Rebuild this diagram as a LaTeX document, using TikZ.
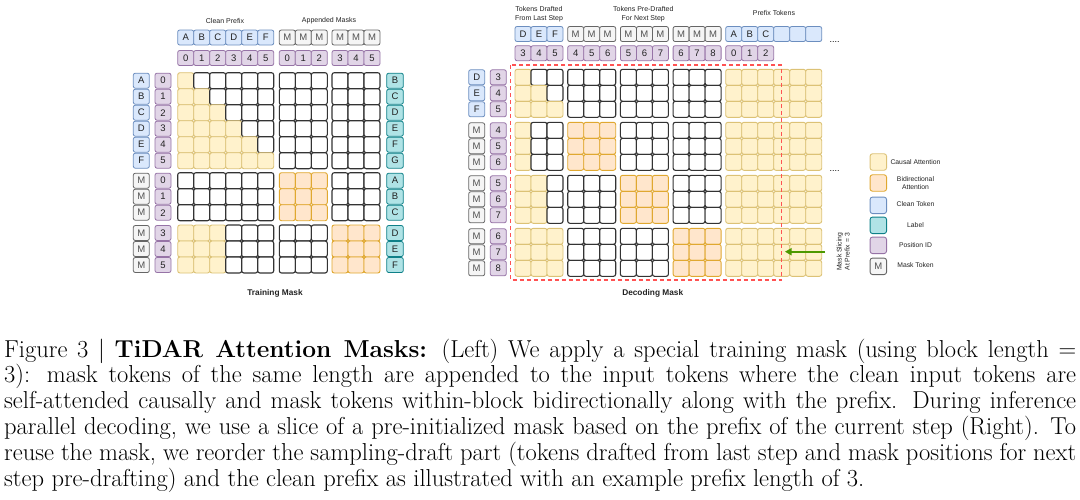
\documentclass[tikz,border=0pt]{standalone}
\usepackage{fontspec}
\newfontfamily\sff{Liberation Sans}
\usetikzlibrary{arrows.meta}
\definecolor{causF}{HTML}{FFF2CC}
\definecolor{causD}{HTML}{DCC276}
\definecolor{bidF}{HTML}{FFE6CC}
\definecolor{bidD}{HTML}{E0A830}
\definecolor{cleanF}{HTML}{DAE8FC}
\definecolor{cleanD}{HTML}{6C8EBF}
\definecolor{labF}{HTML}{B0E3E6}
\definecolor{labD}{HTML}{0E8088}
\definecolor{posF}{HTML}{E1D5E7}
\definecolor{posD}{HTML}{9673A6}
\definecolor{maskF}{HTML}{F5F5F5}
\definecolor{maskD}{HTML}{666666}
\definecolor{cellD}{HTML}{333333}
\definecolor{txt}{HTML}{222222}
\definecolor{redd}{HTML}{FF5252}
\definecolor{arrg}{HTML}{4D9900}
\begin{document}
\begin{tikzpicture}[x=1pt,y=-1pt,
  cellbase/.style={rounded corners=2.2pt},
  wcell/.style={cellbase, draw=cellD, fill=white, line width=1.1pt},
  ccell/.style={cellbase, draw=causD, fill=causF, line width=0.9pt},
  bcell/.style={cellbase, draw=bidD, fill=bidF, line width=0.9pt},
  tok/.style={draw, rounded corners=2pt, minimum width=16pt, minimum height=15pt, inner sep=0pt,
    font=\sff\fontsize{9.5}{10}\selectfont, text=txt, line width=0.8pt},
  cleantok/.style={tok, draw=cleanD, fill=cleanF},
  labtok/.style={tok, draw=labD, fill=labF},
  posid/.style={tok, draw=posD, fill=posF},
  masktok/.style={tok, draw=maskD, fill=maskF, text=maskD!80!black},
  legbox/.style={draw, rounded corners=2.5pt, minimum width=16.5pt, minimum height=16.5pt, inner sep=0pt, line width=0.9pt,
    font=\sff\fontsize{9.5}{10}\selectfont, text=maskD!80!black},
  headtxt/.style={font=\sff\fontsize{7}{8.3}\selectfont, text=txt, align=center, inner sep=0pt},
  legtxt/.style={font=\sff\fontsize{6.8}{8}\selectfont, text=txt, align=center, inner sep=0pt},
  titletxt/.style={font=\sff\bfseries\fontsize{8.3}{9}\selectfont, text=txt, inner sep=0pt},
  reddash/.style={draw=redd, line width=1.4pt, dash pattern=on 4pt off 3pt},
  greenarrow/.style={draw=arrg, line width=1.6pt, -{Triangle[length=6.5pt,width=7pt]}}
]
\useasboundingbox (0,0) rectangle (1080,499);

% ================= LEFT: TRAINING MASK =================
\node[headtxt] (cleanlbl) at (225,21) {Clean Prefix};
\node[headtxt] (applbl) at (329,21) {Appended Masks};
% header tokens
\foreach \t [count=\k from 0] in {A,B,C,D,E,F}{
  \node[cleantok] (lh-\k) at (177.7+16*\k+8,37.5) {\t};
  \node[posid] (lp-\k) at (177.7+16*\k+8,58) {\k};
}
\foreach \k in {0,1,2}{
  \node[masktok] (lhm1-\k) at (279.3+16*\k+8,37.5) {M};
  \node[masktok] (lhm2-\k) at (332+16*\k+8,37.5) {M};
  \pgfmathtruncatemacro\kk{\k+3}
  \node[posid] (lpm1-\k) at (279.3+16*\k+8,58) {\k};
  \node[posid] (lpm2-\k) at (332+16*\k+8,58) {\kk};
}
% grid
\foreach \r in {0,...,11}{
  \pgfmathsetmacro\ry{\r<6 ? 72.7+16*\r : (\r<9 ? 172.7+16*(\r-6) : 225+16*(\r-9))}
  \foreach \c in {0,...,11}{
    \pgfmathsetmacro\cx{\c<6 ? 177.7+16*\c : (\c<9 ? 279.3+16*(\c-6) : 332+16*(\c-9))}
    \pgfmathtruncatemacro\typ{\r<6 ? ((\c<6 && \c<\r+1) ? 1 : 0) : (\r<9 ? ((\c>5 && \c<9) ? 2 : 0) : (\c<3 ? 1 : (\c>8 ? 2 : 0)))}
    \ifcase\typ
      \path[wcell] (\cx,\ry) rectangle ++(16,16);
    \or
      \path[ccell] (\cx,\ry) rectangle ++(16,16);
    \or
      \path[bcell] (\cx,\ry) rectangle ++(16,16);
    \fi
  }
}
% row labels
\foreach \t/\p/\l [count=\r from 0] in {A/0/B,B/1/C,C/2/D,D/3/E,E/4/F,F/5/G,M/0/A,M/1/B,M/2/C,M/3/D,M/4/E,M/5/F}{
  \pgfmathsetmacro\ry{\r<6 ? 72.7+16*\r : (\r<9 ? 172.7+16*(\r-6) : 225+16*(\r-9))}
  \ifnum\r<6
    \node[cleantok, minimum width=16pt] (lr-\r) at (141.3,\ry+8) {\t};
  \else
    \node[masktok, minimum width=16pt] (lr-\r) at (141.3,\ry+8) {\t};
  \fi
  \node[posid] (lrp-\r) at (163,\ry+8) {\p};
  \node[labtok, minimum width=16.6pt] (lrl-\r) at (395,\ry+8) {\l};
}
\node[titletxt] (trainlbl) at (275,293.5) {Training Mask};

% ================= RIGHT: DECODING MASK =================
\node[headtxt] (draftlbl) at (539,14.2) {Tokens Drafted\\From Last Step};
\node[headtxt] (prelbl) at (643.3,14.2) {Tokens Pre-Drafted\\For Next Step};
\node[headtxt] (preflbl) at (774,13) {Prefix Tokens};
% header tokens
\foreach \t/\p [count=\k from 0] in {D/3,E/4,F/5}{
  \node[cleantok] (rh0-\k) at (515+16*\k+8,34) {\t};
  \node[posid] (rp0-\k) at (515+16*\k+8,53.2) {\p};
}
\foreach \b in {1,2,3}{
  \foreach \k in {0,1,2}{
    \pgfmathtruncatemacro\pp{\b+\k+3}
    \node[masktok] (rh\b-\k) at (515+52.7*\b+16*\k+8,34) {M};
    \node[posid] (rp\b-\k) at (515+52.7*\b+16*\k+8,53.2) {\pp};
  }
}
\foreach \t [count=\k from 0] in {A,B,C,{},{},{}}{
  \node[cleantok] (rh4-\k) at (725.7+16*\k+8,34) {\t};
}
\foreach \k in {0,1,2}{
  \node[posid] (rp4-\k) at (725.7+16*\k+8,53.2) {\k};
}
\node[font=\sff\fontsize{9}{10}\selectfont, inner sep=0pt] (dots1) at (834.5,42.5) {....};
\node[font=\sff\fontsize{9}{10}\selectfont, inner sep=0pt] (dots2) at (834.5,171.5) {....};
% grid
\foreach \R in {0,1,2,3}{
  \foreach \i in {0,1,2}{
    \pgfmathsetmacro\ry{69.3+53*\R+16*\i}
    % block 0
    \foreach \k in {0,1,2}{
      \pgfmathtruncatemacro\typ{\R==0 ? (\k<\i+1 ? 1 : 0) : (\k<\R ? 1 : 0)}
      \ifcase\typ
        \path[wcell] (515+16*\k,\ry) rectangle ++(16,16);
      \or
        \path[ccell] (515+16*\k,\ry) rectangle ++(16,16);
      \fi
    }
    % blocks 1-3
    \foreach \B in {1,2,3}{
      \foreach \k in {0,1,2}{
        \ifnum\B=\R
          \path[bcell] (515+52.7*\B+16*\k,\ry) rectangle ++(16,16);
        \else
          \path[wcell] (515+52.7*\B+16*\k,\ry) rectangle ++(16,16);
        \fi
      }
    }
    % prefix
    \foreach \k in {0,...,5}{
      \path[ccell] (725.7+16*\k,\ry) rectangle ++(16,16);
    }
  }
}
% row labels
\foreach \t/\p [count=\r from 0] in {D/3,E/4,F/5,M/4,M/5,M/6,M/5,M/6,M/7,M/6,M/7,M/8}{
  \pgfmathtruncatemacro\RR{\r/3}
  \pgfmathtruncatemacro\ii{\r-3*\RR}
  \pgfmathsetmacro\ry{69.3+53*\RR+16*\ii}
  \ifnum\r<3
    \node[cleantok] (rr-\r) at (476.7,\ry+8) {\t};
  \else
    \node[masktok] (rr-\r) at (476.7,\ry+8) {\t};
  \fi
  \node[posid] (rrp-\r) at (498.3,\ry+8) {\p};
}
% slicing window
\coordinate (slA) at (510.7,65);
\coordinate (slB) at (781.5,280);
\path[reddash] (slA) rectangle (slB);
% arrow
\coordinate (arS) at (825,251.7);
\coordinate (arE) at (785,251.7);
\draw[greenarrow] (arS) -- (arE);
\node[legtxt, rotate=90] (slicelbl) at (843.2,251.7) {Mask Slicing\\At Prefix = 3};
\node[titletxt] (declbl) at (652.7,293.5) {Decoding Mask};

% ================= LEGEND =================
\node[legbox, draw=causD, fill=causF] (lg1) at (878.3,162) {};
\node[legbox, draw=bidD, fill=bidF] (lg2) at (878.3,183) {};
\node[legbox, draw=cleanD, fill=cleanF] (lg3) at (878.3,205.3) {};
\node[legbox, draw=labD, fill=labF] (lg4) at (878.3,225.3) {};
\node[legbox, draw=posD, fill=posF] (lg5) at (878.3,245.3) {};
\node[legbox, draw=maskD, fill=maskF] (lg6) at (878.3,266.3) {M};
\node[legtxt] (lt1) at (915.5,162) {Causal Attention};
\node[legtxt] (lt2) at (915.5,183.3) {Bidirectional\\Attention};
\node[legtxt] (lt3) at (915.5,204) {Clean Token};
\node[legtxt] (lt4) at (915.5,225) {Label};
\node[legtxt] (lt5) at (915.5,245.3) {Position ID};
\node[legtxt] (lt6) at (915.5,265.3) {Mask Token};

% ================= CAPTION =================
\node[anchor=north west, text width=1072pt, align=justify, inner sep=0pt,
  font=\fontsize{24.5}{25.8}\selectfont] (caption) at (4,338.5)
{Figure 3 | \textbf{TiDAR Attention Masks:} (Left) We apply a special training mask (using block length =\linebreak
3): mask tokens of the same length are appended to the input tokens where the clean input tokens are\linebreak
self-attended causally and mask tokens within-block bidirectionally along with the prefix. During inference\linebreak
parallel decoding, we use a slice of a pre-initialized mask based on the prefix of the current step (Right). To\linebreak
reuse the mask, we reorder the sampling-draft part (tokens drafted from last step and mask positions for next\linebreak
step pre-drafting) and the clean prefix as illustrated with an example prefix length of 3.};
\end{tikzpicture}
\end{document}
